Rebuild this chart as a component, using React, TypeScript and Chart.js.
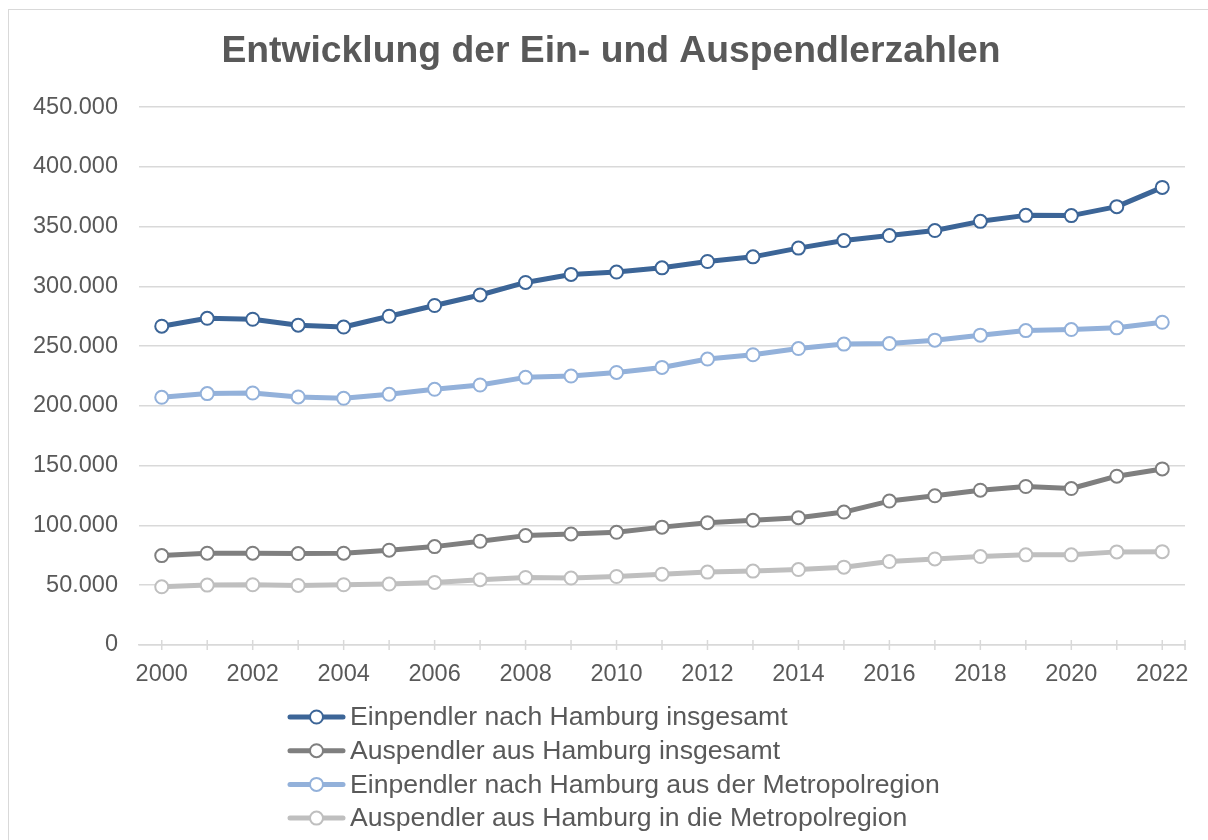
import React, { useEffect, useRef } from "react";
import { Chart, registerables } from "chart.js";

Chart.register(...registerables);

const TITLE = "Entwicklung der Ein- und Auspendlerzahlen";
const years = ["2000", "2001", "2002", "2003", "2004", "2005", "2006", "2007", "2008", "2009", "2010", "2011", "2012", "2013", "2014", "2015", "2016", "2017", "2018", "2019", "2020", "2021", "2022"];

const seriesLabels = [
  "Einpendler nach Hamburg insgesamt",
  "Auspendler aus Hamburg insgesamt",
  "Einpendler nach Hamburg aus der Metropolregion",
  "Auspendler aus Hamburg in die Metropolregion",
];

const einpendlerGesamt = [266700, 273300, 272500, 267500, 266000, 275000, 284000, 292800, 303300, 310000, 312000, 315500, 320800, 324700, 332000, 338300, 342500, 346700, 354400, 359400, 359200, 366700, 382800];
const auspendlerGesamt = [74800, 76800, 76800, 76500, 76800, 79300, 82300, 86800, 91500, 92900, 94300, 98600, 102300, 104300, 106500, 111200, 120400, 124800, 129500, 132600, 130900, 141200, 147300];
const einpendlerMetro = [207200, 210300, 210800, 207500, 206400, 209700, 213900, 217500, 223900, 225000, 228000, 232200, 239200, 242800, 248000, 251700, 252200, 255000, 259200, 263000, 263900, 265300, 270000];
const auspendlerMetro = [48700, 50100, 50400, 49800, 50400, 51000, 52300, 54600, 56500, 56000, 57300, 59200, 61000, 61800, 63100, 65100, 69800, 72000, 74000, 75400, 75400, 77900, 78100];

const seriesColors = ["#3c6597", "#7f7f7f", "#93b1da", "#bfbfbf"];

const yMin = 0;
const yMax = 450000;
const yStep = 50000;

const FONT = '"Liberation Sans", Arial, sans-serif';
const TEXT_COLOR = "#595959";
const GRID_COLOR = "#d9d9d9";

const formatDE = (v: number) => String(Math.round(v)).replace(/\B(?=(\d{3})+(?!\d))/g, ".");

// let the y-axis labels use the space left of the scale box (avoids clipping)
const unclipYLabelsPlugin = {
  id: "unclipYLabels",
  afterLayout(chart: any) {
    const ys = chart.scales.y;
    if (ys) ys.left = 0;
  },
};

const crossTicksPlugin = {
  id: "crossTicks",
  beforeDatasetsDraw(chart: any) {
    const { ctx, chartArea } = chart;
    const xs = chart.scales.x;
    ctx.save();
    ctx.strokeStyle = GRID_COLOR;
    ctx.lineWidth = 1.5;
    const positions: number[] = years.map((_, i) => xs.getPixelForValue(i));
    positions.push(chartArea.right);
    positions.forEach((x) => {
      ctx.beginPath();
      ctx.moveTo(x, chartArea.bottom - 5);
      ctx.lineTo(x, chartArea.bottom + 5);
      ctx.stroke();
    });
    ctx.restore();
  },
};

const customLegendPlugin = {
  id: "customLegend",
  afterDraw(chart: any) {
    const { ctx, chartArea } = chart;
    const x0 = 281;
    const top = chartArea.bottom + 72;
    const step = 33.7;
    ctx.save();
    chart.data.datasets.forEach((ds: any, i: number) => {
      const y = top + i * step;
      ctx.lineCap = "round";
      ctx.lineWidth = 5;
      ctx.strokeStyle = ds.borderColor;
      ctx.beginPath();
      ctx.moveTo(x0, y);
      ctx.lineTo(x0 + 53, y);
      ctx.stroke();
      ctx.beginPath();
      ctx.arc(x0 + 26.5, y, 6.5, 0, Math.PI * 2);
      ctx.fillStyle = "#ffffff";
      ctx.fill();
      ctx.lineWidth = 2;
      ctx.stroke();
      ctx.fillStyle = TEXT_COLOR;
      ctx.font = `26.6px ${FONT}`;
      ctx.textBaseline = "middle";
      ctx.textAlign = "left";
      ctx.fillText(ds.label, x0 + 60, y + 1);
    });
    ctx.restore();
  },
};

export default function App() {
  const canvasRef = useRef<HTMLCanvasElement | null>(null);

  useEffect(() => {
    document.documentElement.style.overflow = "hidden";
    document.body.style.overflow = "hidden";
    if (!canvasRef.current) return;
    const values = [einpendlerGesamt, auspendlerGesamt, einpendlerMetro, auspendlerMetro];
    const chart = new Chart(canvasRef.current, {
      type: "line",
      data: {
        labels: years,
        datasets: values.map((data, i) => ({
          label: seriesLabels[i],
          data,
          borderColor: seriesColors[i],
          backgroundColor: seriesColors[i],
          borderWidth: 5,
          borderCapStyle: "round",
          borderJoinStyle: "round",
          pointRadius: 6.5,
          pointBorderWidth: 2,
          pointBackgroundColor: "#ffffff",
          pointBorderColor: seriesColors[i],
          tension: 0,
          fill: false,
        })),
      },
      options: {
        responsive: false,
        animation: false,
        layout: { padding: { left: 28, right: 23, top: 0, bottom: 150 } },
        plugins: {
          legend: { display: false },
          tooltip: { enabled: false },
          title: {
            display: true,
            text: TITLE,
            color: TEXT_COLOR,
            font: { family: FONT, size: 37.3, weight: "bold", lineHeight: 1.2 },
            padding: { top: 19.8, bottom: 32.5 },
          },
        },
        scales: {
          x: {
            offset: true,
            grid: { display: true, drawOnChartArea: false, drawTicks: false },
            border: { display: true, color: GRID_COLOR, width: 1.5 },
            ticks: {
              autoSkip: false,
              maxRotation: 0,
              minRotation: 0,
              padding: 15,
              color: TEXT_COLOR,
              font: { family: FONT, size: 23.5 },
              callback: (_v: any, i: number) => (i % 2 === 0 ? years[i] : ""),
            },
            afterFit: (s: any) => {
              s.height = 45;
            },
          },
          y: {
            min: yMin,
            max: yMax,
            ticks: {
              stepSize: yStep,
              padding: 21,
              color: TEXT_COLOR,
              font: { family: FONT, size: 23.5 },
              callback: (v: any) => formatDE(Number(v)),
            },
            grid: { color: GRID_COLOR, lineWidth: 1.5, drawTicks: false },
            border: { display: false },
            afterFit: (s: any) => {
              s.width = 102;
            },
          },
        },
      },
      plugins: [unclipYLabelsPlugin, crossTicksPlugin, customLegendPlugin],
    } as any);
    return () => chart.destroy();
  }, []);

  return (
    <div style={{ position: "absolute", left: 0, top: 0, width: 1208, height: 840, overflow: "hidden", background: "#ffffff" }}>
      <div style={{ position: "absolute", left: 8, top: 9, width: 1200, height: 1, background: GRID_COLOR }} />
      <div style={{ position: "absolute", left: 8, top: 9, width: 1, height: 831, background: GRID_COLOR }} />
      <canvas
        ref={canvasRef}
        width={1199}
        height={830}
        style={{ position: "absolute", left: 9, top: 10, display: "block" }}
      />
    </div>
  );
}
